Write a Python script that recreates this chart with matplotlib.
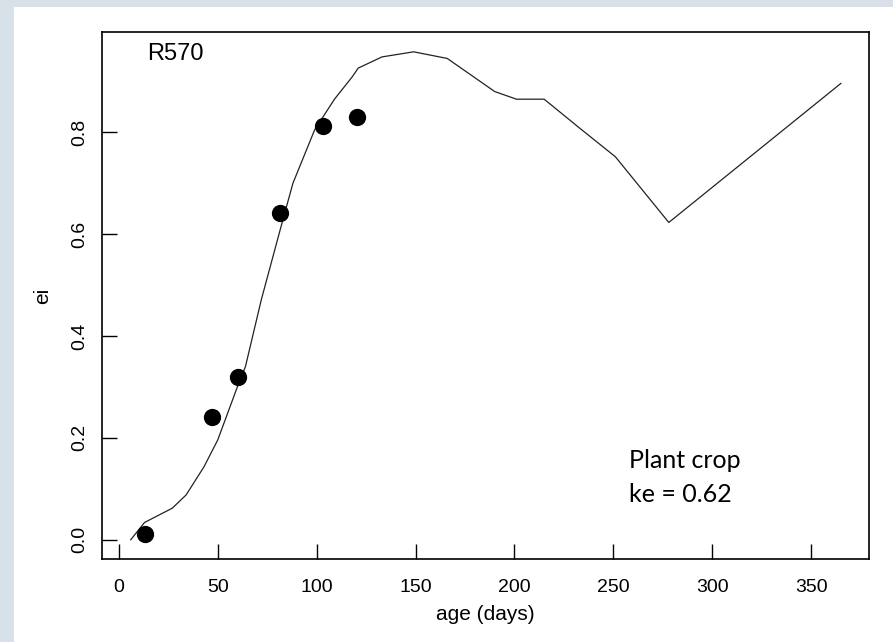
import matplotlib
matplotlib.use("Agg")
import matplotlib.pyplot as plt
from matplotlib.patches import Rectangle

# Observed points
obs_age = [13.4, 47.0, 60.4, 81.6, 103.2, 120.5]
obs_ei = [0.011, 0.242, 0.320, 0.642, 0.812, 0.831]

# Fitted curve
curve_age = [6, 13, 27, 34, 43, 50, 60, 64, 72, 82, 88, 99, 109, 118, 121,
             133, 149, 166, 190, 201, 215, 233, 251, 278, 365]
curve_ei = [0.0, 0.034, 0.062, 0.088, 0.143, 0.196, 0.301, 0.34, 0.471, 0.615,
            0.70, 0.805, 0.865, 0.909, 0.926, 0.948, 0.958, 0.945, 0.880, 0.865,
            0.865, 0.808, 0.752, 0.623, 0.896]

x_ticks = [0, 50, 100, 150, 200, 250, 300, 350]
y_ticks = [0.0, 0.2, 0.4, 0.6, 0.8]
y_tick_labels = ["0.0", "0.2", "0.4", "0.6", "0.8"]

W, H = 893, 642
fig = plt.figure(figsize=(W / 100, H / 100), dpi=100)
fig.patch.set_facecolor("white")
band = "#d8e0ea"
fig.patches.append(Rectangle((0, 0), 14 / W, 1, transform=fig.transFigure,
                             facecolor=band, edgecolor="none", zorder=-10))
fig.patches.append(Rectangle((0, 1 - 7 / H), 1, 7 / H, transform=fig.transFigure,
                             facecolor=band, edgecolor="none", zorder=-10))

ax = fig.add_axes([102.3 / W, 1 - 559.3 / H, (869.3 - 102.3) / W, (559.3 - 32.3) / H])
ax.set_facecolor("white")

ax.plot(curve_age, curve_ei, color="#222222", lw=0.9, zorder=2)
ax.scatter(obs_age, obs_ei, s=155, color="black", zorder=3, linewidths=0)

xmin, xmax = min(curve_age), max(curve_age)
ymin, ymax = min(curve_ei), max(curve_ei)
ax.set_xlim(xmin - 0.04 * (xmax - xmin), xmax + 0.04 * (xmax - xmin))
ax.set_ylim(ymin - 0.04 * (ymax - ymin), ymax + 0.04 * (ymax - ymin))

font = "Liberation Sans"
ax.set_xticks(x_ticks)
ax.set_xticklabels([str(v) for v in x_ticks], fontsize=14, family=font, color="#222222")
ax.set_yticks(y_ticks)
ax.set_yticklabels(y_tick_labels, fontsize=14, family=font, rotation=90, va="center",
                   color="#222222")
ax.tick_params(direction="in", length=11, width=1, colors="black")
ax.tick_params(axis="x", pad=14.5)
ax.tick_params(axis="y", pad=10)
for s in ax.spines.values():
    s.set_linewidth(1.2)
    s.set_color("black")

ax.set_xlabel("age (days)", fontsize=15, family=font, labelpad=6)
ax.set_ylabel("ei", fontsize=15, family=font, labelpad=14)

fig.text(147 / W, 1 - 54 / H, "R570", fontsize=17,
         family=font, va="center", ha="left")
fig.text(629 / W, 1 - 468 / H, "Plant crop",
         fontsize=18, family="Lato", va="baseline", ha="left")
fig.text(629 / W, 1 - 501.5 / H, "ke = 0.62",
         fontsize=18, family="Lato", va="baseline", ha="left")

fig.savefig("out.png", dpi=100, facecolor=fig.get_facecolor())
